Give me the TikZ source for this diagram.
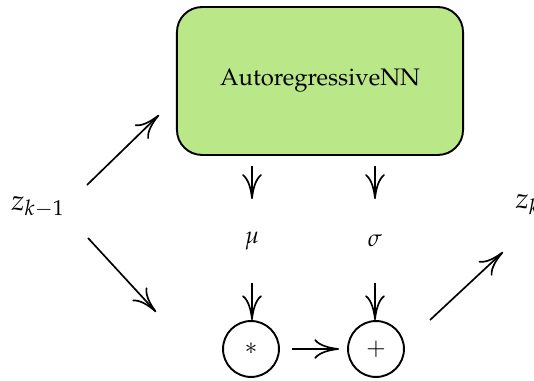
\documentclass[tikz,border=0pt]{standalone}
\usepackage[T1]{fontenc}
\usepackage{mathpazo}
\usetikzlibrary{arrows.meta,calc}
\definecolor{nngreen}{RGB}{186,232,137}
\begin{document}
\begin{tikzpicture}[x=0.4184pt,y=-0.4184pt,
  arr/.style={line width=0.7pt,-{To[scale length=3.3,scale width=1.25]}},
  nnbox/.style={draw=black,line width=0.8pt,fill=nngreen,rounded corners=10.5pt,
    minimum width=119.7pt,minimum height=61.9pt,inner sep=0pt},
  circ/.style={draw=black,line width=0.8pt,circle,minimum size=23.4pt,inner sep=0pt},
  lbl/.style={inner sep=0pt}]
\useasboundingbox (0,0) rectangle (534,381);
\node[nnbox] (nn) at (320,81) {AutoregressiveNN};
\node[lbl] (zin) at (38,207) {\large $z_{k-1}$};
\node[lbl] (mu) at (252,241) {$\mu$};
\node[lbl] (sg) at (375,241) {$\sigma$};
\node[circ] (mul) at (251,349) {$*$};
\node[circ] (add) at (376,349) {$+$};
\node[lbl,anchor=west] (zout) at (515,205) {\large $z_k$};
% arrows
\draw[arr] ($(zin)+(49,-22)$) -- ($(nn.west)+(-17,34)$);
\draw[arr] ($(zin)+(50,31)$) -- ($(mul.west)+(-66,-37)$);
\draw[arr] ($(nn.south -| mu)+(0,10)$) -- ($(mu)+(0,-42)$);
\draw[arr] ($(nn.south -| sg)+(0,10)$) -- ($(sg)+(0,-42)$);
\draw[arr] ($(mu)+(0,42)$) -- ($(mul.north)+(1,0)$);
\draw[arr] ($(sg)+(0,42)$) -- ($(add.north)+(-1,0)$);
\draw[arr] ($(mul.east)+(12,0)$) -- ($(add.west)+(-8,0)$);
\draw[arr] ($(add)+(54,-29)$) -- ($(zout.west)+(-12,47)$);
\end{tikzpicture}
\end{document}
